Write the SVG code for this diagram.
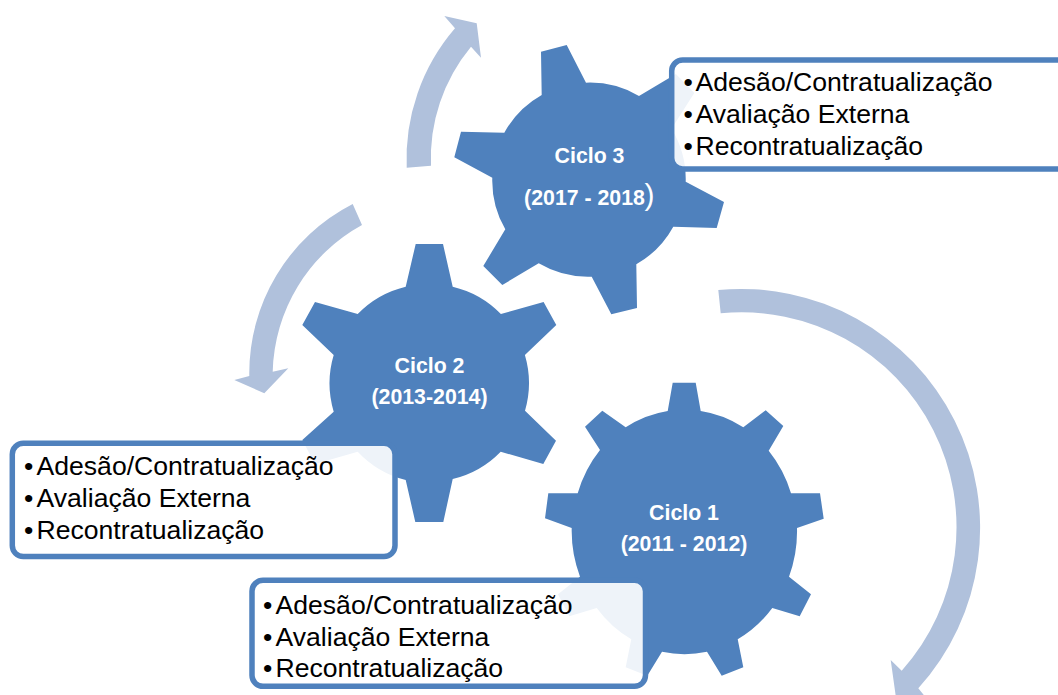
<svg xmlns="http://www.w3.org/2000/svg" width="1058" height="695" viewBox="0 0 1058 695">
<style>
.gear{fill:#4F81BD}
.arrow{fill:#B0C1DC}
.box{fill:#fff;fill-opacity:.9;stroke:#4F81BD;stroke-width:5.5}
.item{font:26.6px "Liberation Sans",Arial,sans-serif;fill:#000}
.lab{font:bold 21.3px "Liberation Sans",Arial,sans-serif;fill:#fff;text-anchor:middle}
</style>
<rect width="1058" height="695" fill="#fff"/>
<g id="connectors">
<path class="arrow" d="M406.7 167.7A200 200 0 0 1 455 28.3L444.3 16L476.7 23.3L481 57.7L471 46.7A175 175 0 0 0 431 165.7Z"/>
<path class="arrow" d="M352.7 204A190 190 0 0 0 249.3 376L234.3 380L264.3 393.3L288.3 368.3L272.7 371.7A172 172 0 0 1 362 225Z"/>
<path class="arrow" d="M718.3 290A239 239 0 0 1 918.3 688.3L932 705L897 705L890.7 660L901.7 670.7A215 215 0 0 0 720.7 313.3Z"/>
</g>
<g id="gear-1">
<path class="gear" d="M667.7 411L672.7 382.7L695.7 382.7L700.7 411A113 122 0 0 1 743.3 427.3L765.7 410.3L783.3 426L768.7 450.7A113 122 0 0 1 791 493.3L820 493.3L823.7 518.7L797 528A113 122 0 0 1 789 576.7L811 594.3L799.7 616.3L772.3 608A113 122 0 0 1 737.7 639.3L743.3 667.3L721.7 675.7L707 651.7A113 122 0 0 1 662 651.7L647.3 675.7L625.7 667.3L631.3 639.3A113 122 0 0 1 596.7 608L569.3 616.3L558 594.3L580 576.7A113 122 0 0 1 571.7 528L545 518.3L548.3 493.3L577.7 493.3A113 122 0 0 1 600 450L585 426.7L602.3 410.7L625.7 427.3A113 122 0 0 1 667.7 411Z"/>
<text class="lab" x="684" y="520">Ciclo 1</text>
<text class="lab" x="684" y="551">(2011 - 2012)</text>
</g>
<g id="gear-2">
<path class="gear" d="M405.7 286.7L415.7 244L443 244L452.7 286.7A99 99 0 0 1 500.9 314L543.6 302L556.3 325L524.9 355A99 99 0 0 1 525 410.7L556 440.7L543.3 464L500.7 451.7A99 99 0 0 1 452.7 479L443.3 522L415.3 522L405.7 480A99 99 0 0 1 357.7 451.7L315 464L302.3 440L333.7 411.7A99 99 0 0 1 333.7 355L302.3 325L315 302L357.7 314A99 99 0 0 1 405.7 286.7Z"/>
<text class="lab" x="429.5" y="373">Ciclo 2</text>
<text class="lab" x="429.5" y="403.5">(2013-2014)</text>
</g>
<g id="gear-3">
<path class="gear" d="M541.7 95L541 51.7L566.7 45L586 82.7A97 97 0 0 1 639 96L675.9 74L694.3 93L671.5 128.7A97 97 0 0 1 685.7 181.7L724 202L716.7 228L673.3 226.7A97 97 0 0 1 636.3 264.3L637 308L611.3 314.3L591.7 276.7A97 97 0 0 1 538.7 263.3L502.3 285L483.3 266L505.3 229.3A97 97 0 0 1 492.3 177.7L454.3 157.3L461 131.7L504.3 132.7A97 97 0 0 1 541.7 95Z"/>
<text class="lab" x="589.5" y="162.5">Ciclo 3</text>
<text class="lab" x="584.5" y="204.5">(2017 - 2018</text>
<text x="644.5" y="204.5" style="font:30px 'Liberation Sans',Arial,sans-serif;fill:#fff">)</text>
</g>
<g id="box-1">
<rect class="box" x="252" y="580.3" width="393.5" height="106" rx="11"/>
<text class="item" x="263" y="614">•<tspan x="275.5">Adesão/Contratualização</tspan></text>
<text class="item" x="263" y="645.5">•<tspan x="275.5">Avaliação Externa</tspan></text>
<text class="item" x="263" y="677">•<tspan x="275.5">Recontratualização</tspan></text>
</g>
<g id="box-2">
<rect class="box" x="12.3" y="443.3" width="382.7" height="113.3" rx="11"/>
<text class="item" x="24" y="475">•<tspan x="36.5">Adesão/Contratualização</tspan></text>
<text class="item" x="24" y="507">•<tspan x="36.5">Avaliação Externa</tspan></text>
<text class="item" x="24" y="539">•<tspan x="36.5">Recontratualização</tspan></text>
</g>
<g id="box-3">
<rect class="box" x="671.7" y="60" width="400" height="109" rx="11"/>
<text class="item" x="683.5" y="91">•<tspan x="695.5">Adesão/Contratualização</tspan></text>
<text class="item" x="683.5" y="123">•<tspan x="695.5">Avaliação Externa</tspan></text>
<text class="item" x="683.5" y="155">•<tspan x="695.5">Recontratualização</tspan></text>
</g>
</svg>
